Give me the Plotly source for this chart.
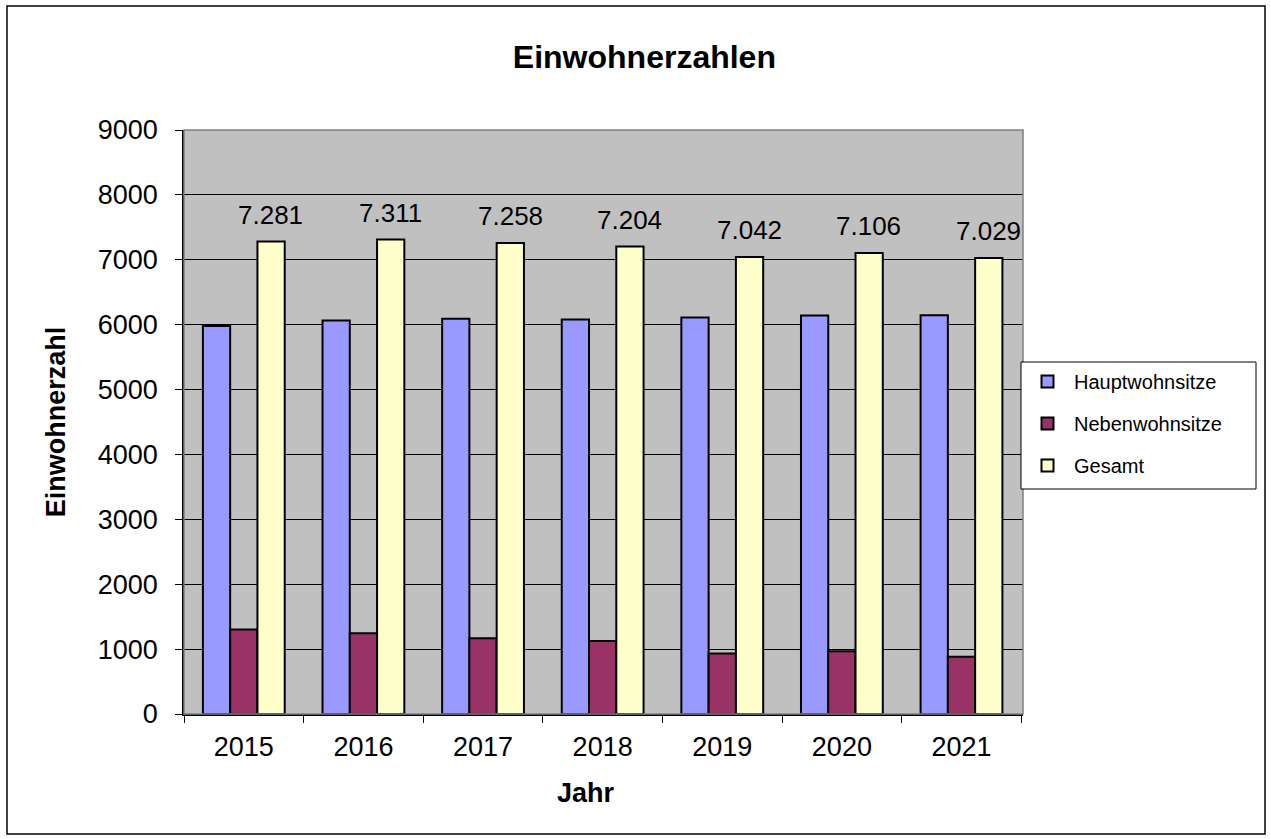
import plotly.graph_objects as go

years = ["2015", "2016", "2017", "2018", "2019", "2020", "2021"]
haupt = [5978, 6065, 6090, 6080, 6110, 6140, 6145]
neben = [1303, 1246, 1168, 1124, 932, 966, 884]
gesamt = [7281, 7311, 7258, 7204, 7042, 7106, 7029]
gesamt_labels = ["7.281", "7.311", "7.258", "7.204", "7.042", "7.106", "7.029"]

FONT = "Liberation Sans, Arial, sans-serif"

fig = go.Figure()
series = [
    ("Hauptwohnsitze", haupt, "#9999FF"),
    ("Nebenwohnsitze", neben, "#993366"),
    ("Gesamt", gesamt, "#FFFFCC"),
]
for name, vals, col in series:
    fig.add_trace(go.Bar(
        x=years, y=vals, name=name, legendgroup=name,
        marker=dict(color=col, line=dict(color="black", width=2)),
    ))

for i, (v, lab) in enumerate(zip(gesamt, gesamt_labels)):
    fig.add_annotation(x=i, y=v, text=lab, showarrow=False, xshift=27, yshift=27,
                       yanchor="middle", font=dict(family=FONT, size=26, color="black"))

L, R, T, B = 184, 1023, 130, 714
W, H = 1271, 839
pw, ph = R - L, B - T

def px(x):
    return (x - L) / pw

def py(y):
    return (B - y) / ph

# x-axis title
fig.add_annotation(x=px(586), y=py(793), xref="paper", yref="paper", text="<b>Jahr</b>",
                   showarrow=False, xanchor="center", yanchor="middle",
                   font=dict(family=FONT, size=27, color="black"))

shapes = [
    dict(type="rect", xref="paper", yref="paper", x0=0, x1=1, y0=0, y1=1,
         line=dict(color="#808080", width=1.5), layer="above"),
    dict(type="rect", xref="paper", yref="paper", x0=px(7), x1=px(1265), y0=py(834), y1=py(6),
         line=dict(color="black", width=1.5)),
    dict(type="rect", xref="paper", yref="paper", x0=px(1021), x1=px(1256), y0=py(489), y1=py(362),
         line=dict(color="black", width=1), fillcolor="white", layer="above"),
]

fig.update_layout(
    width=W, height=H,
    margin=dict(l=L, r=W - R, t=T, b=H - B, autoexpand=False),
    paper_bgcolor="white", plot_bgcolor="#C0C0C0",
    barmode="group", bargap=0.316, bargroupgap=0,
    font=dict(family=FONT, color="black"),
    title=dict(text="<b>Einwohnerzahlen</b>", x=0.507, xref="container", xanchor="center",
               y=1 - 57 / H, yref="container", yanchor="middle",
               font=dict(family=FONT, size=32, color="black")),
    showlegend=True,
    legend=dict(x=px(1021), y=py(362), xanchor="left", yanchor="top",
                bgcolor="rgba(0,0,0,0)", borderwidth=0,
                font=dict(family=FONT, size=20, color="black"),
                tracegroupgap=13, traceorder="grouped", itemwidth=43),
    shapes=shapes,
    xaxis=dict(type="category", showline=True, linecolor="black", linewidth=1.5,
               ticks="outside", ticklen=7, tickcolor="black", tickson="boundaries",
               showgrid=False, tickfont=dict(family=FONT, size=27), tickangle=0,
               ticklabelstandoff=8),
    yaxis=dict(range=[0, 9000], tickmode="linear", tick0=0, dtick=1000,
               showline=True, linecolor="black", linewidth=1.5,
               ticks="outside", ticklen=7, tickcolor="black",
               showgrid=True, gridcolor="black", gridwidth=1, zeroline=False,
               tickfont=dict(family=FONT, size=27), ticklabelstandoff=12,
               title=dict(text="<b>Einwohnerzahl</b>", font=dict(family=FONT, size=27), standoff=24)),
)

fig.write_html("out.html", config={"displayModeBar": False},
               post_script="document.body.style.margin='0';")
